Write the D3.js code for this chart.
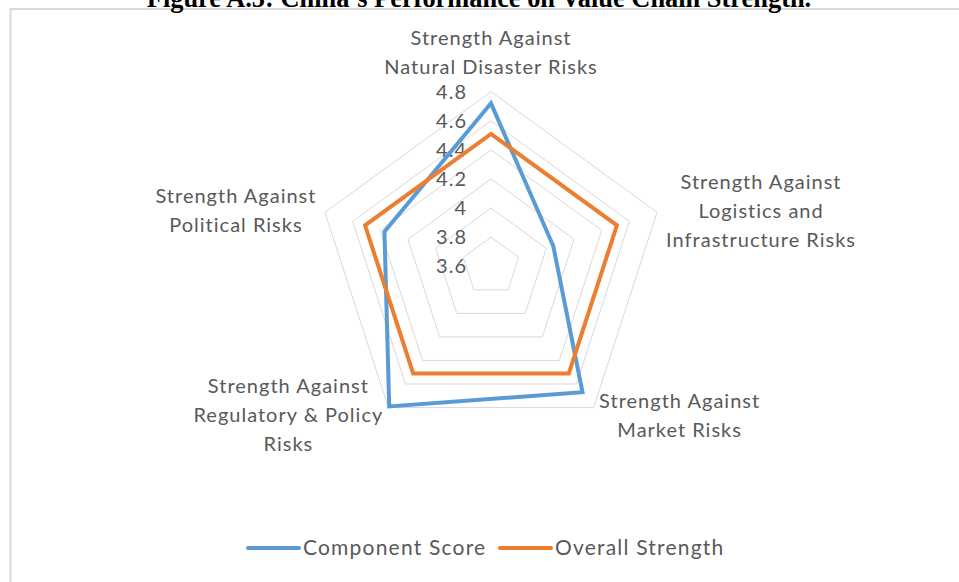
<!DOCTYPE html>
<html>
<head>
<meta charset="utf-8">
<script src="https://cdn.jsdelivr.net/npm/d3@7/dist/d3.min.js"></script>
<style>
  body { margin: 0; background: #fff; }
  svg { display: block; }
</style>
</head>
<body>
<div id="chart"><svg></svg></div>
<script>
const width = 959;
const height = 582;

// data
const axisLabels = [
    ["Strength Against", "Natural Disaster Risks"],
    ["Strength Against", "Logistics and", "Infrastructure Risks"],
    ["Strength Against", "Market Risks"],
    ["Strength Against", "Regulatory & Policy", "Risks"],
    ["Strength Against", "Political Risks"]
];
const componentScore = [4.72, 4.05, 4.67, 4.79, 4.37];
const overallStrength = [4.51, 4.51, 4.51, 4.51, 4.51];
const tickValues = [3.6, 3.8, 4.0, 4.2, 4.4, 4.6, 4.8];
const seriesNames = ["Component Score", "Overall Strength"];
const titleText = "Figure A.5: China\u2019s Performance on Value Chain Strength.";

const colors = ["#5B9BD5", "#ED7D31"];
const labelFont = "Lato, 'Open Sans', sans-serif";
const textColor = "#595959";

const svg = d3.select('#chart')
    .select('svg')
    .attr('width', width)
    .attr('height', height);

svg.append('rect')
    .attr('width', width).attr('height', height)
    .attr('fill', '#fff');

// chart frame (cut off on right/bottom)
svg.append('rect')
    .attr('x', 10.5).attr('y', 9)
    .attr('width', 960).attr('height', 600)
    .attr('fill', '#fff')
    .attr('stroke', '#d9d9d9')
    .attr('stroke-width', 2);

// title, mostly off the top edge
svg.append('text')
    .attr('x', 479).attr('y', 7)
    .attr('text-anchor', 'middle')
    .style('font-family', "'Liberation Serif', 'Times New Roman', serif")
    .style('font-weight', 'bold')
    .style('font-size', '26.4px')
    .attr('fill', '#000')
    .text(titleText);

const cx = 491, cy = 266.3;
const rScale = d3.scaleLinear()
    .domain([3.6, 4.8])
    .range([0, 174.6]);

const angle = i => i * 2 * Math.PI / axisLabels.length;
const pt = (i, v) => [cx + rScale(v) * Math.sin(angle(i)), cy - rScale(v) * Math.cos(angle(i))];

const g = svg.append('g');

// grid pentagons
const ring = d3.line().curve(d3.curveLinearClosed);
g.selectAll('path.ring')
    .data(tickValues.slice(1))
    .join('path')
    .attr('class', 'ring')
    .attr('d', v => ring(axisLabels.map((_, i) => pt(i, v))))
    .attr('fill', 'none')
    .attr('stroke', '#d9d9d9')
    .attr('stroke-width', 1);

// tick labels on the top axis
g.selectAll('text.tick')
    .data(tickValues)
    .join('text')
    .attr('class', 'tick')
    .attr('x', 467)
    .attr('y', v => cy - rScale(v))
    .attr('dy', '0.35em')
    .attr('text-anchor', 'end')
    .style('font-family', labelFont)
    .style('font-size', '20px')
    .style('letter-spacing', '1px')
    .attr('fill', textColor)
    .text(v => d3.format('')(+v.toFixed(1)));

// series
const series = [componentScore, overallStrength];
g.selectAll('path.series')
    .data(series)
    .join('path')
    .attr('class', 'series')
    .attr('d', s => ring(s.map((v, i) => pt(i, v))))
    .attr('fill', 'none')
    .attr('stroke', (d, i) => colors[i])
    .attr('stroke-width', 4)
    .attr('stroke-linejoin', 'miter');

// category labels: offset of block centre from outer vertex
const labelOffset = [[0, -39], [104, -1], [86, 8], [-100, 7], [-89, -2]];
const lineH = 29;
axisLabels.forEach(function(lines, i) {
    const v = pt(i, 4.8);
    const bx = v[0] + labelOffset[i][0];
    const by = v[1] + labelOffset[i][1] - (lines.length - 1) * lineH / 2;
    const t = g.append('text')
        .attr('text-anchor', 'middle')
        .style('font-family', labelFont)
        .style('font-size', '20px')
        .style('letter-spacing', '1px')
        .attr('fill', textColor);
    lines.forEach(function(s, k) {
        t.append('tspan')
            .attr('x', bx)
            .attr('y', by + k * lineH)
            .attr('dy', '0.35em')
            .text(s);
    });
});

// legend
const legend = svg.append('g');
const legendX = [248, 500];
seriesNames.forEach(function(name, i) {
    legend.append('line')
        .attr('x1', legendX[i]).attr('x2', legendX[i] + 51)
        .attr('y1', 548).attr('y2', 548)
        .attr('stroke', colors[i])
        .attr('stroke-width', 4)
        .attr('stroke-linecap', 'round');
    legend.append('text')
        .attr('x', legendX[i] + 55).attr('y', 548)
        .attr('dy', '0.35em')
        .style('font-family', labelFont)
        .style('font-size', '21px')
        .style('letter-spacing', '1.2px')
        .attr('fill', textColor)
        .text(name);
});
</script>
</body>
</html>
